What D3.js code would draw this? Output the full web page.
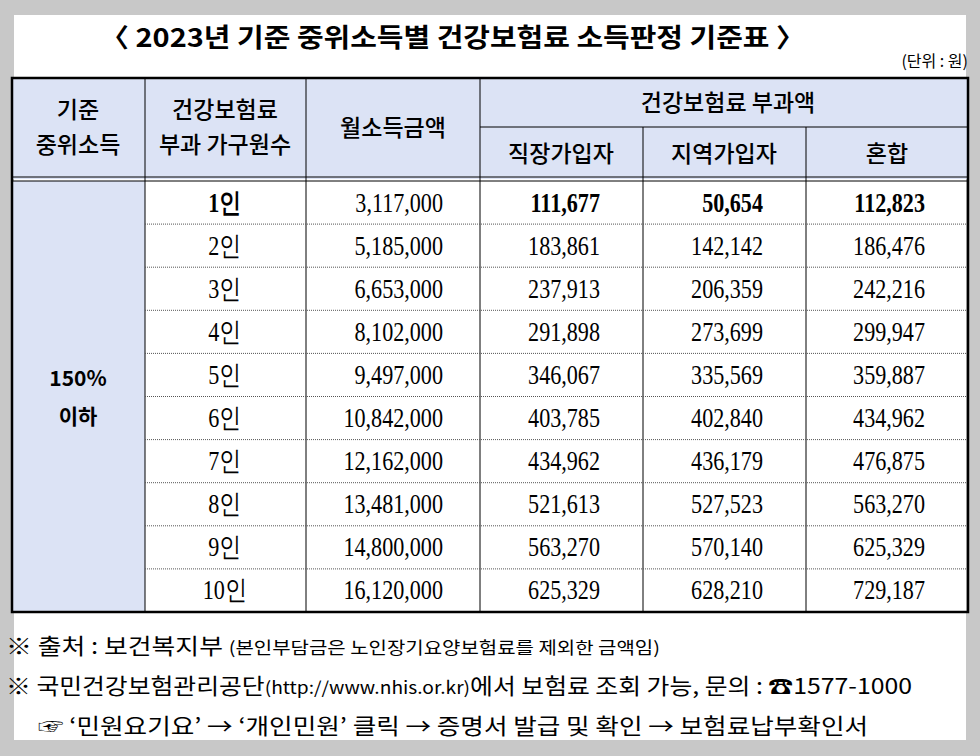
<!DOCTYPE html><html><head><meta charset="utf-8"><script src="https://cdn.jsdelivr.net/npm/d3@7"></script>
<style>body{margin:0;background:#c8c8c8}</style></head><body><svg id="c" width="980" height="756"></svg>
<script>
const members=["1인","2인","3인","4인","5인","6인","7인","8인","9인","10인"];
const income=[3117000,5185000,6653000,8102000,9497000,10842000,12162000,13481000,14800000,16120000];
const employee=[111677,183861,237913,291898,346067,403785,434962,521613,563270,625329];
const regional=[50654,142142,206359,273699,335569,402840,436179,527523,570140,628210];
const mixed=[112823,186476,242216,299947,359887,434962,476875,563270,625329,729187];
const svg=d3.select("#c");
const K="'Noto Sans CJK KR',sans-serif", S="'Liberation Serif',serif";
svg.append("rect").attr("x",14).attr("y",15).attr("width",952).attr("height",725).attr("fill","#fff");
svg.append("text").attr("x",100).attr("y",47).attr("font-family",K).attr("font-weight",700).attr("font-size",26).attr("textLength",705).attr("lengthAdjust","spacingAndGlyphs").text("〈 2023년 기준 중위소득별 건강보험료 소득판정 기준표 〉");
svg.append("text").attr("x",968).attr("y",67).attr("text-anchor","end").attr("font-family",K).attr("font-size",16).text("(단위 : 원)");
const y=d3.scaleBand().domain(d3.range(10)).range([181,612]);
const blue="#dce3f5";
svg.append("rect").attr("x",12).attr("y",78).attr("width",956).attr("height",101).attr("fill",blue);
svg.append("rect").attr("x",12).attr("y",181).attr("width",133).attr("height",431).attr("fill",blue);
const g=svg.append("g").attr("stroke","#000");
[145,306,480].forEach(x=>g.append("line").attr("x1",x).attr("x2",x).attr("y1",78).attr("y2",612));
[643,806].forEach(x=>g.append("line").attr("x1",x).attr("x2",x).attr("y1",127).attr("y2",612));
g.append("line").attr("x1",480).attr("x2",968).attr("y1",127).attr("y2",127);
g.append("line").attr("x1",12).attr("x2",968).attr("y1",177).attr("y2",177);
g.append("line").attr("x1",12).attr("x2",968).attr("y1",181).attr("y2",181);
d3.range(1,10).forEach(i=>g.append("line").attr("x1",145).attr("x2",968).attr("y1",y(i)).attr("y2",y(i)).attr("stroke","#555").attr("stroke-dasharray","1,1"));
svg.append("rect").attr("x",12).attr("y",78).attr("width",956).attr("height",534).attr("fill","none").attr("stroke","#000").attr("stroke-width",2.5);
const ht=(x,yy,t)=>svg.append("text").attr("x",x).attr("y",yy).attr("text-anchor","middle").attr("font-family",K).attr("font-size",23).attr("font-weight",500).text(t);
ht(78,118,"기준");ht(78,153,"중위소득");
ht(225,118,"건강보험료");ht(225,153,"부과 가구원수");
ht(393,136,"월소득금액");
ht(728,111,"건강보험료 부과액");
ht(561,162,"직장가입자");ht(724,162,"지역가입자");ht(887,162,"혼합");
svg.append("text").attr("x",78).attr("y",386).attr("text-anchor","middle").attr("font-family",K).attr("font-weight",700).attr("font-size",21).text("150%");
svg.append("text").attr("x",78).attr("y",424).attr("text-anchor","middle").attr("font-family",K).attr("font-weight",700).attr("font-size",21).text("이하");
const fmt=d3.format(",");
const colsData=[[members,225,"middle",true],[income,443,"end",false],[employee,600,"end",true],[regional,763,"end",true],[mixed,925,"end",true]];
colsData.forEach(([arr,x,a,b])=>{
 svg.selectAll(null).data(arr).join("text").attr("x",x).attr("y",(d,i)=>y(i)+y.bandwidth()/2+9)
  .attr("text-anchor",a).attr("font-family",S).attr("font-size",27).attr("font-weight",(d,i)=>i==0&&b?700:400)
  .attr("transform",`translate(${x*(1-0.82)},0) scale(0.82,1)`)
  .text(d=>typeof d==="number"?fmt(d):d);
});
const ft=(x,yy,len,parts)=>{const t=svg.append("text").attr("x",x).attr("y",yy).attr("font-family",K).attr("font-size",22).attr("textLength",len).attr("lengthAdjust","spacingAndGlyphs");
 parts.forEach(([s,fs])=>t.append("tspan").attr("font-size",fs).text(s));};
ft(6,654,654,[["※ 출처 : 보건복지부 ",22],["(본인부담금은 노인장기요양보험료를 제외한 금액임)",17]]);
ft(6,694,906,[["※ 국민건강보험관리공단",22],["(http://www.nhis.or.kr)",17],["에서 보험료 조회 가능, 문의 : ☎1577-1000",22]]);
ft(38,734,830,[["☞ ‘민원요기요’ → ‘개인민원’ 클릭 → 증명서 발급 및 확인 → 보험료납부확인서",22]]);
</script></body></html>
